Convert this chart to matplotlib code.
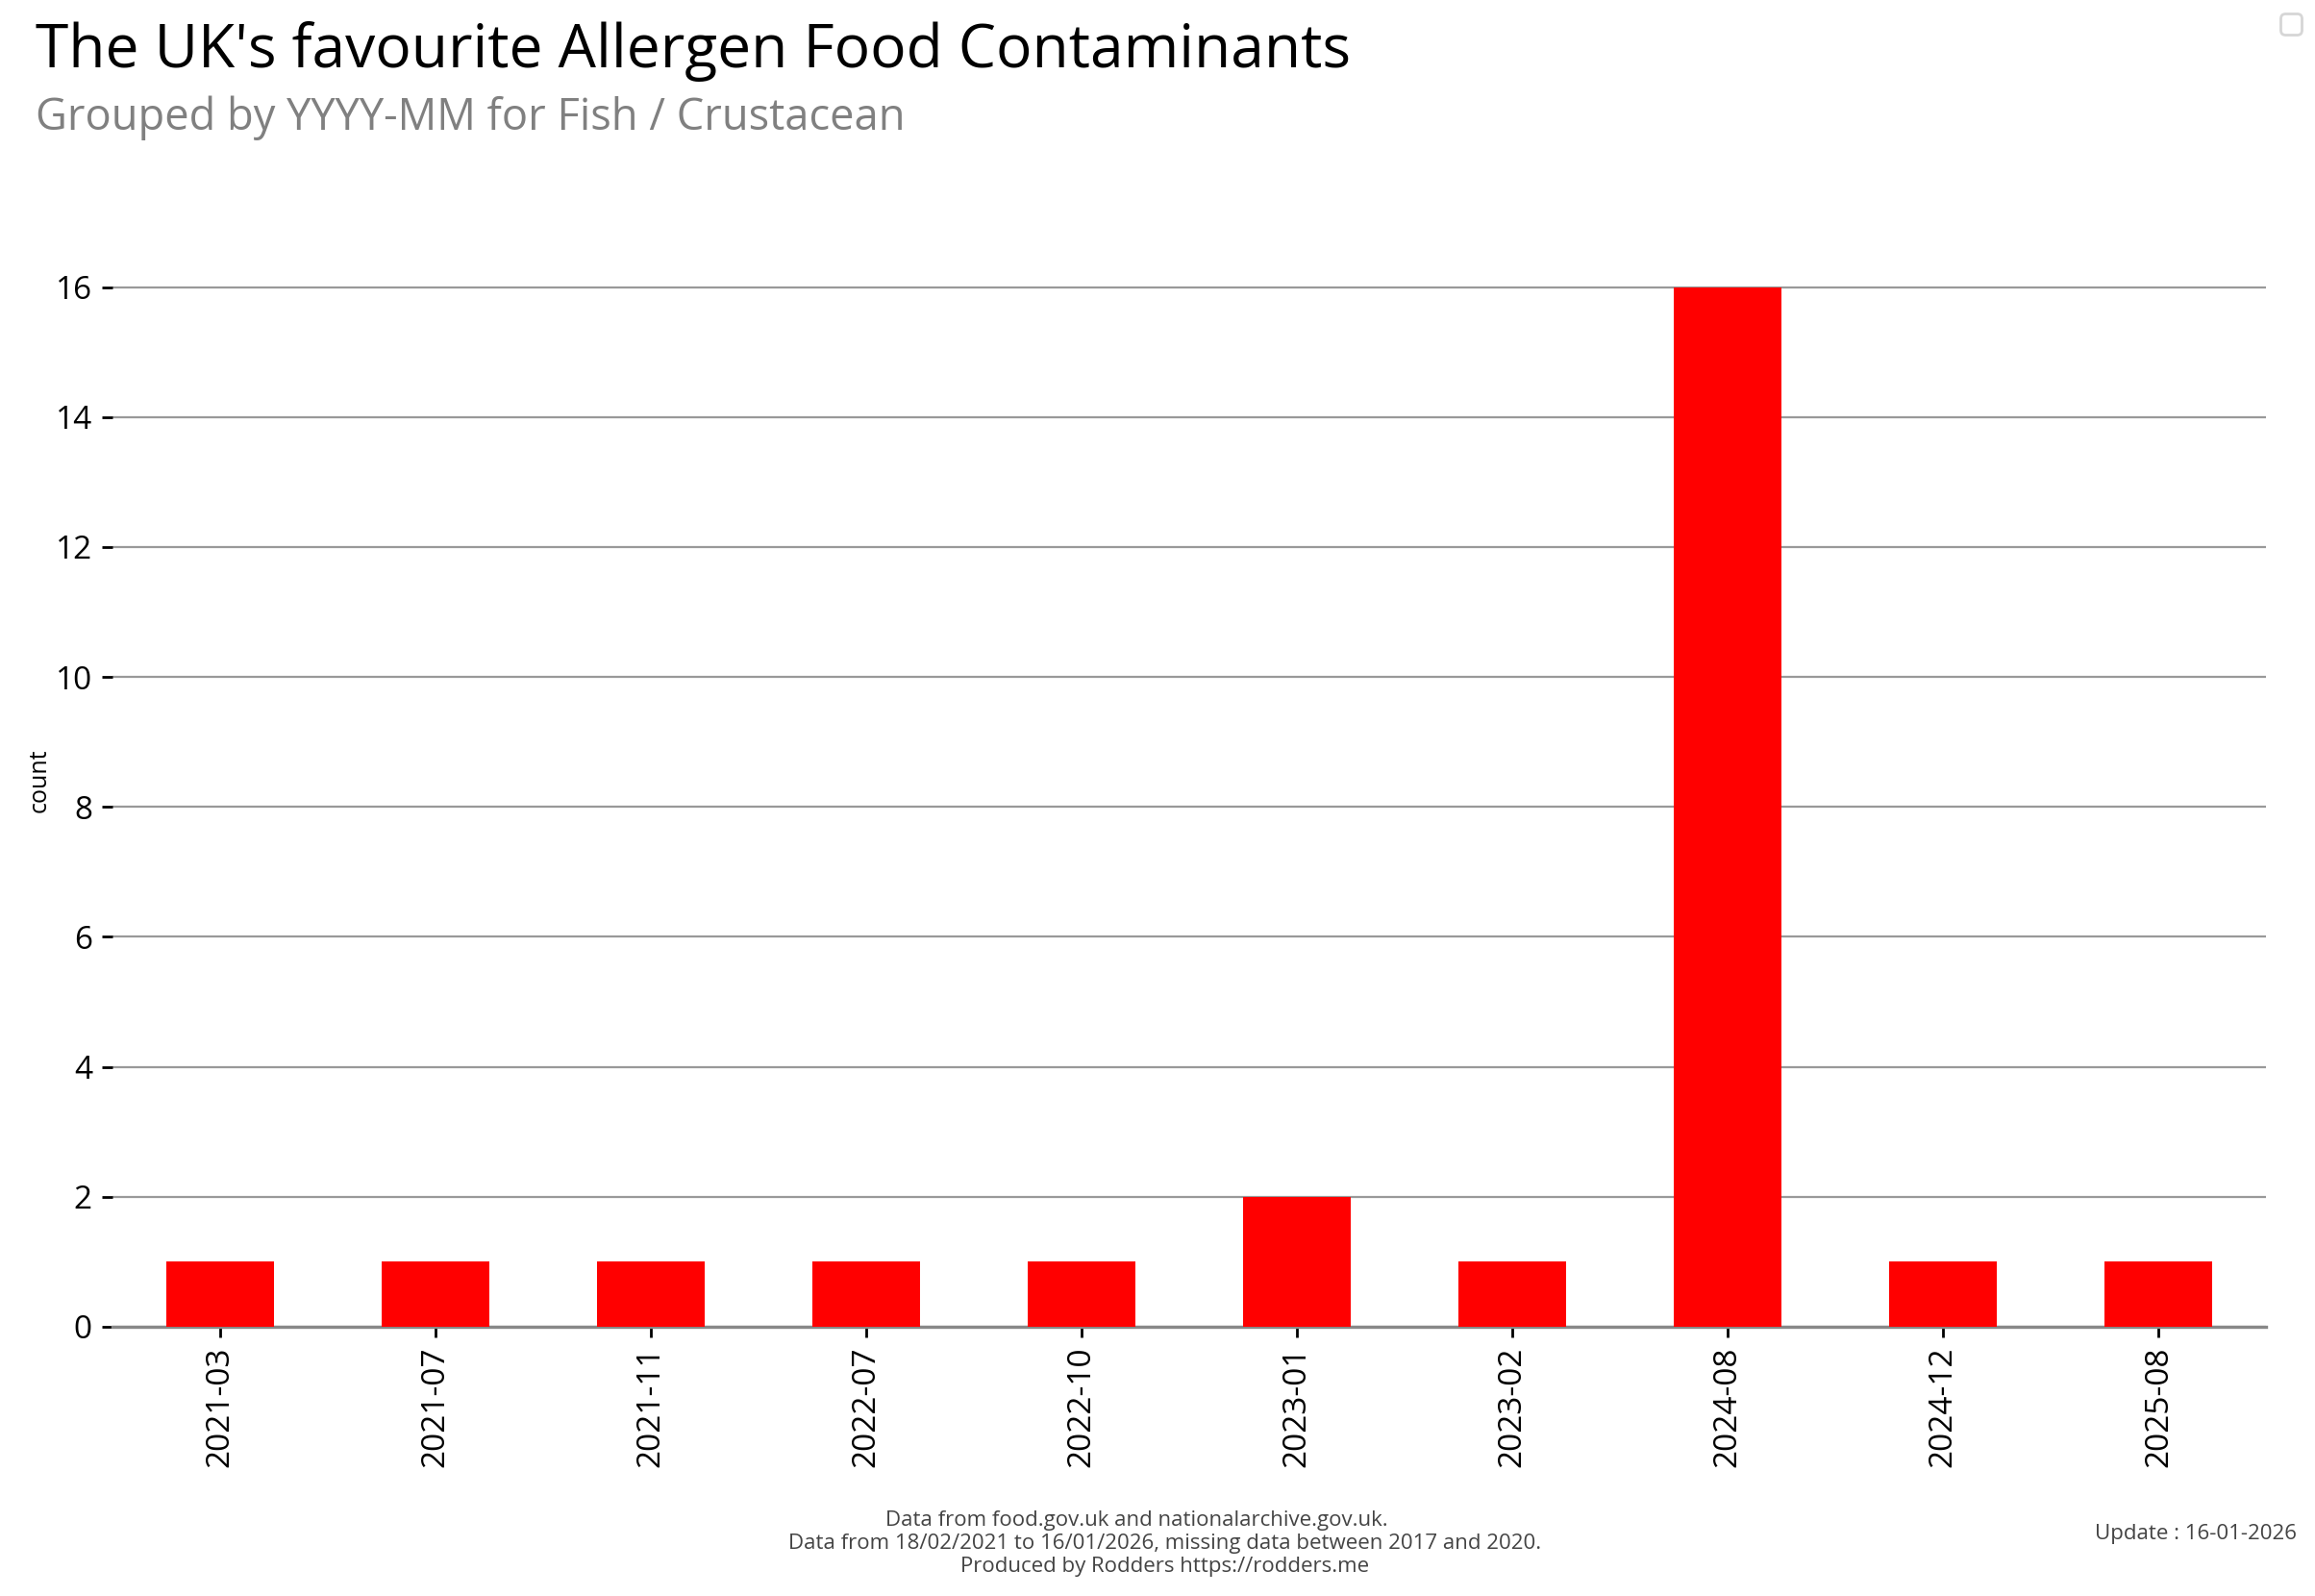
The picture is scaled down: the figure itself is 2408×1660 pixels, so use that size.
import matplotlib
matplotlib.use('Agg')
import matplotlib.pyplot as plt

plt.rcParams['font.family'] = ['Open Sans', 'DejaVu Sans']

months = ['2021-03', '2021-07', '2021-11', '2022-07', '2022-10',
          '2023-01', '2023-02', '2024-08', '2024-12', '2025-08']
counts = [1, 1, 1, 1, 1, 2, 1, 16, 1, 1]

title = "The UK's favourite Allergen Food Contaminants"
subtitle = "Grouped by YYYY-MM for Fish / Crustacean"
footer = ("Data from food.gov.uk and nationalarchive.gov.uk.          \n"
          "Data from 18/02/2021 to 16/01/2026, missing data between 2017 and 2020.\n"
          "Produced by Rodders https://rodders.me")
update = "Update : 16-01-2026"

fig = plt.figure(figsize=(12.04, 8.3), dpi=200)
ax = fig.add_axes([0.0485, 0.1687, 0.9305, 0.684])

x = list(range(len(months)))
ax.bar(x, counts, width=0.5, color='#ff0000', zorder=3)
ax.set_xlim(-0.5, len(months) - 0.5)
ax.set_ylim(0, 16.8)
ax.set_xticks(x)
ax.set_xticklabels(months, rotation=90, fontsize=12)
ax.set_yticks(range(0, 17, 2))
ax.tick_params(axis='y', labelsize=12, length=4, width=1)
ax.tick_params(axis='x', length=4, width=1)
ax.set_ylabel('count', fontsize=9)
ax.yaxis.set_label_coords(-0.028, 0.5)

ax.grid(axis='y', color='#999999', linewidth=0.8, zorder=0)
for s in ['top', 'right', 'left']:
    ax.spines[s].set_visible(False)
ax.spines['bottom'].set_color('#888888')
ax.spines['bottom'].set_linewidth(1.2)

fig.text(0.0153, 0.987, title, fontsize=22.4, va='top', ha='left', color='black')
fig.text(0.0153, 0.940, subtitle, fontsize=16.3, va='top', ha='left', color='#808080')
fig.text(0.503, 0.012, footer, fontsize=8, ha='center', va='bottom',
         color='#444444', linespacing=1.2)
fig.text(0.992, 0.039, update, fontsize=8, ha='right', va='center', color='#444444')

fig.legend(handles=[], labels=[], loc='upper right', frameon=True)

fig.savefig('out.png', dpi=200)
